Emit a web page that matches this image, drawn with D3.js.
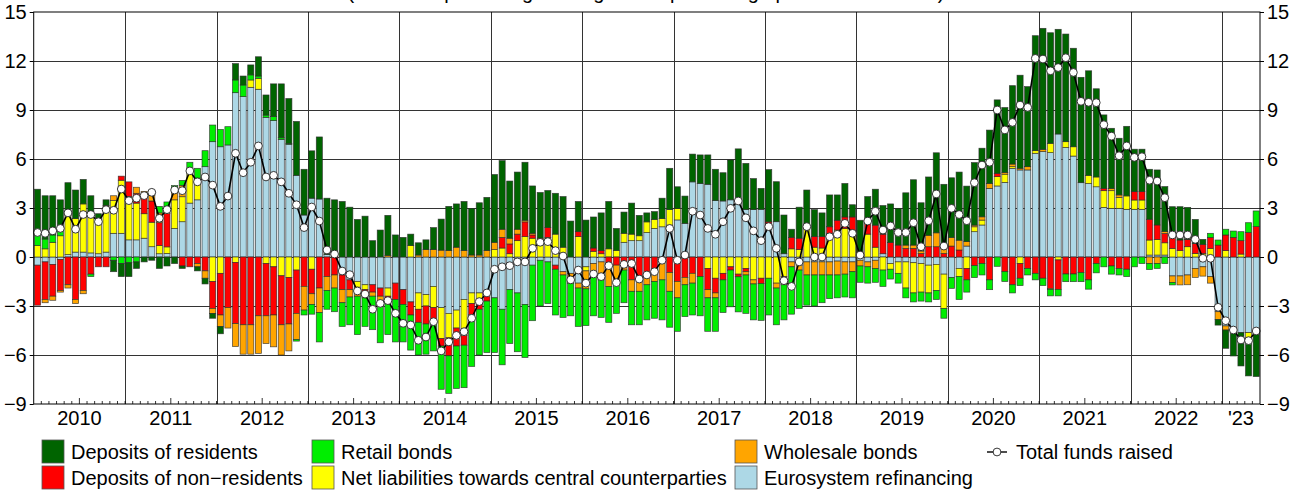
<!DOCTYPE html>
<html><head><meta charset="utf-8">
<script src="https://cdn.jsdelivr.net/npm/d3@7"></script>
<style>body{margin:0;background:#fff}svg{display:block}text{font-family:"Liberation Sans",Arial,Helvetica,sans-serif;fill:#000}</style>
</head><body><svg id="c" width="1303" height="493"></svg>
<script>
// ---- data (monthly, Jan 2010 - May 2023) ----
const months = d3.timeMonth.range(new Date(2010,0,1), new Date(2023,5,1));
const yearLabels = ["2010","2011","2012","2013","2014","2015","2016","2017","2018","2019","2020","2021","2022","'23"];
const yTicks = [-9,-6,-3,0,3,6,9,12,15];
const titleText = "(12-month percentage changes and percentage point contributions)";

const eurosystem = [-0.5,-0.3,-0.45,-0.15,0.15,0.3,0.3,0.25,0.2,0.3,
1.45,1.45,1.05,1.05,1.15,0.63,0.2,0.22,1.75,2.16,
3.3,3.5,5.53,7.06,6.75,6.86,10.06,9.82,10.39,10.27,
8.55,8.35,7.2,6.9,5.0,2.57,3.6,3.55,0.15,0.2,
-1.1,-1.4,-1.5,-1.7,-1.7,-1.9,-1.9,-1.6,-2.0,-2.75,
-2.2,-2.3,-1.8,-3.1,-3.45,-3.25,-2.6,-2.2,-2.2,-2.2,
-2.5,-3.2,-2.0,-2.2,-2.9,-0.5,-0.2,-0.3,-0.5,-0.9,
-1.0,-1.6,-0.6,-0.4,-0.3,0,0,0.9,1.0,1.0,
1.5,1.75,1.85,1.95,2.27,2.06,4.6,4.5,4.45,3.45,
3.43,3.5,3.4,2.9,2.9,2.92,2.0,2.16,0.2,-0.3,
-0.5,-0.3,-0.3,-0.3,-0.3,-0.25,-0.3,-0.3,-0.2,-0.3,
-0.2,0.2,-0.4,-0.3,-0.3,-0.35,-0.4,-0.5,-0.45,-1.05,
-1.25,-0.7,0.67,1.55,1.96,4.2,4.35,4.57,5.43,5.33,
5.33,6.35,6.45,6.39,7.53,6.71,6.18,4.55,4.5,4.3,
3.04,2.98,2.98,2.92,2.92,2.92,0.12,0.12,0.12,-1.16,
-1.16,-1.1,-0.7,-0.6,-1.2,-3.35,-4.22,-4.47,-4.63,-4.63,-4.67];

const ccp = [0.7,0.5,0.9,1.3,2.4,2.05,2.95,2.3,2.15,2.55,
2.0,3.25,2.65,2.25,1.5,1.5,0.5,0.4,1.75,1.53,
2.0,1.33,0,-1.5,-1.0,0,-0.33,0,0.45,0.67,
-0.4,-0.6,-1.15,-1.25,-0.8,0,-0.75,0,0,0,
0,0,-0.35,-0.3,0,0,-0.5,0,0,0.7,
-1.0,-0.7,-1.3,-1.9,-1.5,-1.1,-2.2,-0.65,-0.4,0,
0.45,0.55,0.2,1.0,1.25,1.15,1.0,1.2,1.4,0.6,
0,1.25,-0.25,0.35,0.2,0.5,0.4,0.55,0.4,0.3,
0.65,0.55,0.5,0.95,0.7,0,0,0,-0.7,-1.3,
-1.0,-0.6,-1.05,-0.7,-1.4,-1.3,-1.3,-1.6,-1.2,0.5,
0.45,1.75,0.6,0.55,1.45,1.65,1.75,1.45,0,1.4,
0.6,-0.8,-0.35,-0.7,-1.6,-1.85,-1.75,-1.7,-1.6,-2.1,
0,-0.5,-0.7,0.3,0.3,0,0.57,0.5,0.1,-0.4,
0,0.16,0,0.57,-0.18,0.35,0.57,0,0.5,0.6,
1.02,1.08,0.67,0.82,0.57,0.57,0.92,0.96,0.75,0.53,
0.39,0.63,0.22,0.22,0.53,0,0.39,0,0.18,-0.35,0];

const nonResidents = [-2.45,-2.3,-1.95,-1.9,-1.7,-2.6,-2.05,-1.05,-0.6,-0.6,
0,0.25,0.9,0.6,1.0,1.3,1.4,2.05,0,-0.55,
-0.6,-0.4,-0.85,-1.65,-2.55,-3.1,-3.75,-4.15,-4.15,-3.6,
-3.2,-2.95,-3.0,-2.85,-2.65,-1.8,-1.5,-1.9,-1.2,-1.1,
-0.9,-0.6,0,-0.2,-0.45,-0.5,-0.4,-1.0,-0.9,-0.8,
-0.8,-1.1,-1.0,-0.45,-1.1,-1.1,-0.6,-0.7,-0.6,-0.5,
0,0.65,0.6,0.4,0.9,0.2,0,0.6,-0.25,0,
0,0.3,0,0.2,0.2,-0.4,-0.5,-0.4,-1.4,-1.3,
-1.0,-0.7,-0.3,-0.95,-1.5,-1.25,-1.0,-1.2,-1.3,-0.9,
-0.4,-0.2,-0.16,-0.2,0,-0.33,0.15,0,0,0.7,
0.7,0,0.65,0.7,0.4,0.6,0.7,1.0,0.3,0.8,
1.35,1.2,0.88,0.73,0.53,0.53,0.22,0.63,0.63,0.22,
0.67,0.43,-0.7,-0.53,-0.4,-1.4,0.2,-0.9,-1.7,-0.9,
-0.7,-1.0,-1.3,-1.92,-1.8,-1.04,-1.04,-0.96,-1.4,-0.4,
0.14,-0.55,-0.7,-0.75,0.51,0.51,1.27,0.88,0.57,0.67,
0.65,0.45,0.6,0.55,0.67,0.73,0.96,1.2,0.82,1.5,1.86];

const wholesale = [0,-0.2,-0.25,-0.1,-0.2,-0.25,-0.2,0,0,0.3,
0.3,0,0,0.37,0.37,0.35,0.6,0.4,0.6,0.7,
0,-0.2,-0.45,-0.3,-0.7,-1.25,-1.4,-1.8,-1.8,-2.3,
-1.7,-1.95,-1.85,-1.65,-1.6,-1.45,-0.65,-1.5,-0.85,-0.8,
-0.8,-0.45,-0.55,-0.3,-0.25,-0.3,0.1,0,0,0,
0.12,0.45,0.45,0.42,0.4,0.6,0.4,0.12,0.12,0.4,
0.45,0.5,0.35,0.3,0.1,0.1,0.15,0,0,-0.2,
-0.6,-0.3,-1.1,-0.7,-1.1,-1.4,-1.0,-0.4,-0.7,-0.8,
-0.7,-0.8,-1.1,-1.15,-1.0,-0.45,-0.6,0,-0.5,-0.3,
0,0,0,-0.2,-0.25,0,0,-0.3,-0.5,-0.3,
-0.3,-0.8,-0.8,-0.8,-0.8,-0.85,-0.75,-0.6,-0.35,-0.3,
-0.5,0,0,0,0.2,0.2,0.15,0.7,0.85,0.3,
0.53,0.6,0.27,0.1,0.2,0.3,0,0.1,0.16,0.1,
0.2,0,0.14,-0.06,0,0,0,0,0,0,
0,0.14,0.15,0,0,0,-0.4,-0.4,0.12,-0.4,
-0.55,-0.6,-0.55,-0.57,-0.4,-0.47,-0.25,0,0,0,0];

const retail = [0.8,0.6,0.45,0.3,0,0,0,-0.15,0,0,
-0.2,-0.4,-0.35,-0.3,0,0.3,0.4,0.3,0.27,0.3,
0.5,0.6,0.98,1.02,1.06,1.12,0.78,0.71,0.31,0.14,
0.14,0.25,0.1,0.05,-0.1,-0.3,-0.6,-1.8,-1.15,-1.45,
-1.45,-1.7,-2.35,-1.75,-2.05,-2.55,-1.95,-2.6,-2.3,-2.15,
-2.0,-1.85,-1.65,-2.65,-2.3,-2.6,-2.6,-3.15,-2.8,-3.15,
-3.35,-3.4,-3.3,-3.6,-3.25,-3.4,-2.8,-2.55,-2.8,-2.6,
-2.0,-2.35,-2.25,-2.5,-2.3,-2.2,-1.95,-2.0,-2.05,-2.05,
-2.15,-2.25,-2.45,-2.2,-2.05,-1.95,-1.95,-2.4,-2.05,-2.05,
-2.0,-2.25,-2.15,-2.35,-2.2,-2.25,-2.25,-2.25,-2.15,-2.9,
-2.35,-1.85,-1.9,-1.7,-1.45,-1.4,-1.4,-1.6,-1.0,-1.0,
-0.85,-1.0,-0.6,-0.6,-0.6,-0.55,-0.55,-0.55,-0.55,-0.6,
-0.67,-1.4,-0.75,-0.73,-0.7,-0.6,-0.57,-0.6,-0.5,-0.45,
-0.4,-0.4,-0.45,-0.4,-0.4,-0.47,-0.47,-0.55,-0.57,-0.57,
-0.6,-0.5,-0.4,-0.45,-0.6,-0.4,-0.37,-0.3,-0.4,-0.15,
0,0,0,0,0.25,0.31,0.35,0.39,0.55,0.6,0.96];

const residents = [2.65,2.65,2.4,1.9,2.0,1.75,1.5,1.2,0.3,0.35,
-0.7,-0.8,-0.85,-0.4,-0.3,-0.2,-0.7,-0.55,-0.4,-0.15,
0,-0.25,-0.35,-0.3,-0.45,0,1.0,0.55,0.61,1.18,
1.23,2.0,3.3,2.75,3.3,2.8,2.9,3.8,3.45,3.3,
3.4,3.05,2.3,2.5,1.0,1.65,2.45,1.35,1.2,0.7,
0.75,0.6,1.35,1.9,2.7,2.65,3.0,2.85,3.2,3.25,
4.15,4.2,3.5,3.5,3.55,2.9,2.8,2.27,2.5,3.1,
2.2,1.85,2.26,1.9,2.3,2.9,1.35,1.3,1.9,1.25,
0.55,0.48,1.25,2.53,1.33,1.67,1.7,1.75,1.8,1.92,
1.73,2.44,3.22,2.83,1.9,1.28,3.2,2.45,2.37,0.5,
1.9,2.35,1.65,1.45,1.95,1.55,2.05,0.75,1.95,1.5,
2.2,1.75,2.37,2.25,3.2,4.0,2.95,3.57,4.9,3.93,
3.65,4.17,3.4,3.83,4.2,3.27,4.5,3.98,4.8,5.7,
4.9,7.04,7.41,6.77,6.41,6.59,6.03,6.45,6.4,5.4,
4.5,3.68,3.47,4.26,2.6,2.6,3.06,3.37,2.75,1.88,
2.04,1.96,1.48,0.31,0,-0.35,-1.12,-1.59,-2.04,-2.3,-2.65];

const total = [1.5,1.45,1.6,1.75,2.7,1.7,2.6,2.6,2.16,2.9,
2.86,4.16,3.45,3.6,3.76,3.96,2.37,2.9,4.1,4.06,
5.27,4.6,4.9,4.4,3.1,3.73,6.35,5.16,5.8,6.8,
4.9,5.0,4.6,3.9,3.2,1.8,3.06,2.2,0.43,0.18,
-0.86,-1.08,-2.08,-2.27,-3.2,-2.84,-2.67,-3.45,-4.06,-4.16,
-5.1,-4.9,-3.96,-5.75,-5.2,-4.8,-4.57,-3.75,-2.73,-2.2,
-0.75,-0.6,-0.53,-0.3,-0.3,0.53,0.9,0.94,0.39,0.06,
-1.4,-0.8,-1.6,-1.04,-1.2,-0.53,-1.57,-0.45,-0.4,-1.35,
-1.1,-0.9,-0.2,1.75,-0.2,0.12,2.8,2.57,1.75,1.39,
2.16,2.98,3.43,2.4,1.6,1.0,1.86,0.53,-1.45,-1.8,
-0.3,1.86,0,0,1.24,1.39,2.06,1.45,0.12,2.2,
2.8,1.65,1.9,1.5,1.5,2.1,0.63,2.22,3.86,0.67,
2.98,2.6,2.22,4.55,5.63,5.8,9.0,7.78,8.24,9.3,
9.16,12.16,12.12,11.4,11.6,12.2,11.3,9.53,9.47,9.45,
8.1,7.4,6.2,6.8,6.1,6.14,4.7,4.65,3.63,1.35,
1.35,1.35,1.08,-0.08,-0.08,-3.08,-3.9,-4.47,-5.08,-5.12,-4.53];

// ---- series definitions (stack order from zero outward) ----
const seriesDefs = [
  {key:"eurosystem", name:"Eurosystem refinancing", color:"#ADD8E6", values:eurosystem},
  {key:"ccp", name:"Net liabilities towards central counterparties", color:"#FFFF00", values:ccp},
  {key:"nonres", name:"Deposits of non\u2212residents", color:"#FF0000", values:nonResidents},
  {key:"wholesale", name:"Wholesale bonds", color:"#FFA500", values:wholesale},
  {key:"retail", name:"Retail bonds", color:"#00EE00", values:retail},
  {key:"residents", name:"Deposits of residents", color:"#006400", values:residents}
];
const colorOf = Object.fromEntries(seriesDefs.map(s=>[s.key,s.color]));

const rows = months.map((m,i)=>{
  const r = {i};
  seriesDefs.forEach(s=>r[s.key]=s.values[i]);
  return r;
});

const svg = d3.select("#c");
const L=33.7, R=1260, T=12, B=404;
const n = months.length;
const x = d3.scaleBand().domain(d3.range(n)).range([L,R]).paddingInner(0.2).paddingOuter(0.1);
const xm = d3.scaleLinear().domain([0,n]).range([L,R]);
const y = d3.scaleLinear().domain([-9,15]).range([B,T]);

// title (mostly clipped above the picture, as in the source)
svg.append("text").attr("x",646).attr("y",-1).attr("text-anchor","middle")
  .style("font-size","20px").text(titleText);

// grid
const g = svg.append("g");
g.selectAll("line.h").data(yTicks.filter(v=>v>-9&&v<15)).join("line")
  .attr("x1",L).attr("x2",R).attr("y1",d=>Math.round(y(d))+0.5).attr("y2",d=>Math.round(y(d))+0.5)
  .attr("stroke","#333").attr("stroke-width",1);
const yearStarts = d3.range(12, n, 12);
g.selectAll("line.v").data(yearStarts).join("line")
  .attr("x1",d=>Math.round(xm(d))+0.5).attr("x2",d=>Math.round(xm(d))+0.5).attr("y1",T).attr("y2",B)
  .attr("stroke","#333").attr("stroke-width",1);

// stacked bars
const stack = d3.stack().keys(seriesDefs.map(s=>s.key)).offset(d3.stackOffsetDiverging);
const stacked = stack(rows);
const bars = svg.append("g");
stacked.forEach(layer=>{
  bars.append("g").attr("fill",colorOf[layer.key])
    .selectAll("rect").data(layer).join("rect")
    .attr("x",(d,i)=>x(i)).attr("width",x.bandwidth())
    .attr("y",d=>y(Math.max(d[0],d[1])))
    .attr("height",d=>Math.abs(y(d[0])-y(d[1])))
    .attr("stroke","#2a2a2a").attr("stroke-width",0.7).attr("stroke-opacity",0.85);
});

// total line
const line = d3.line().x((d,i)=>x(i)+x.bandwidth()/2).y(d=>y(d));
svg.append("path").datum(total).attr("d",line).attr("fill","none").attr("stroke","#000").attr("stroke-width",1.6);
svg.append("g").selectAll("circle").data(total).join("circle")
  .attr("cx",(d,i)=>x(i)+x.bandwidth()/2).attr("cy",d=>y(d)).attr("r",3.9)
  .attr("fill","#fff").attr("stroke","#222").attr("stroke-width",0.9);

// frame
svg.append("rect").attr("x",L).attr("y",T).attr("width",R-L).attr("height",B-T)
  .attr("fill","none").attr("stroke","#000").attr("stroke-width",1);

// left/right axes
const fmt = d3.format("d");
const axL = d3.axisLeft(y).tickValues(yTicks).tickSize(4).tickPadding(3).tickFormat(fmt);
const axR = d3.axisRight(y).tickValues(yTicks).tickSize(4).tickPadding(3).tickFormat(fmt);
const gl = svg.append("g").attr("transform",`translate(${L},0)`).call(axL);
const gr = svg.append("g").attr("transform",`translate(${R},0)`).call(axR);
[gl,gr].forEach(a=>{a.select(".domain").remove();a.selectAll("text").style("font-size","20px").attr("font-family",null);a.selectAll("line").attr("stroke","#000");});

// bottom month ticks
const mt = svg.append("g");
mt.selectAll("line").data(d3.range(1,n)).join("line")
  .attr("x1",d=>xm(d)).attr("x2",d=>xm(d)).attr("y1",B).attr("y2",d=>(d%12===6)?B-6:B-3)
  .attr("stroke","#000").attr("stroke-width",0.8);
// year labels
const yearCenters = yearLabels.map((lab,k)=>{const s=k*12,e=Math.min(n,s+12);return (xm(s)+xm(e))/2;});
svg.append("g").selectAll("text").data(yearLabels).join("text")
  .attr("x",(d,k)=>yearCenters[k]).attr("y",425).attr("text-anchor","middle")
  .style("font-size","20px").text(d=>d);

// legend
const legendItems = [
  {key:"residents", col:0,row:0},{key:"retail",col:1,row:0},{key:"wholesale",col:2,row:0},
  {key:"nonres",col:0,row:1},{key:"ccp",col:1,row:1},{key:"eurosystem",col:2,row:1}
];
const colX=[42,312,735], rowY=[440,466];
const lg = svg.append("g");
legendItems.forEach(it=>{
  const s = seriesDefs.find(d=>d.key===it.key);
  lg.append("rect").attr("x",colX[it.col]).attr("y",rowY[it.row]).attr("width",22).attr("height",23)
    .attr("fill",s.color).attr("stroke","#555").attr("stroke-width",0.8);
  lg.append("text").attr("x",colX[it.col]+29).attr("y",rowY[it.row]+19).style("font-size","20px").text(s.name);
});
lg.append("line").attr("x1",987).attr("x2",1007).attr("y1",452).attr("y2",452).attr("stroke","#000").attr("stroke-width",1.4);
lg.append("circle").attr("cx",997).attr("cy",452).attr("r",3.9).attr("fill","#fff").attr("stroke","#222").attr("stroke-width",0.9);
lg.append("text").attr("x",1016).attr("y",459).style("font-size","20px").text("Total funds raised");
</script></body></html>
